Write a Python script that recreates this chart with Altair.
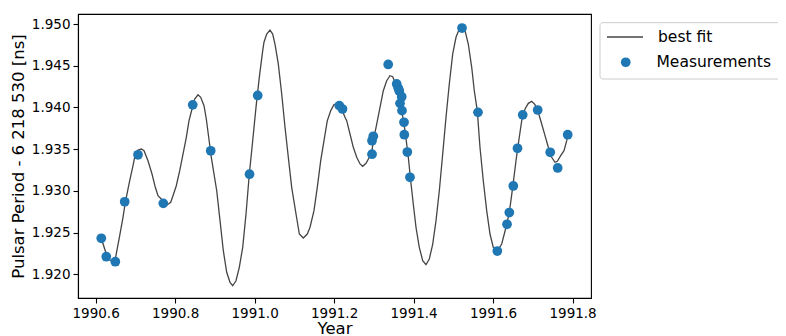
import altair as alt
import pandas as pd

# ---- best-fit curve ----
fit_year = [1990.6143, 1990.6229, 1990.6312, 1990.6480, 1990.6606, 1990.6689, 1990.6747, 1990.6858,
            1990.6941, 1990.6999, 1990.7067, 1990.7150, 1990.7218, 1990.7318, 1990.7419, 1990.7502,
            1990.7570, 1990.7696, 1990.7804, 1990.7889, 1990.7947, 1990.8030, 1990.8116, 1990.8199,
            1990.8282, 1990.8350, 1990.8425, 1990.8493, 1990.8576, 1990.8644, 1990.8727, 1990.8785,
            1990.8845, 1990.8911, 1990.9047, 1990.9130, 1990.9213, 1990.9298, 1990.9381, 1990.9449,
            1990.9532, 1990.9615, 1990.9701, 1990.9784, 1990.9867, 1990.9952, 1991.0035, 1991.0118,
            1991.0204, 1991.0236, 1991.0304, 1991.0387, 1991.0455, 1991.0513, 1991.0596, 1991.0682,
            1991.0765, 1991.0848, 1991.0933, 1991.1042, 1991.1125, 1991.1225, 1991.1326, 1991.1394,
            1991.1494, 1991.1577, 1991.1663, 1991.1746, 1991.1829, 1991.1914, 1991.1997, 1991.2081,
            1991.2191, 1991.2274, 1991.2317, 1991.2400, 1991.2483, 1991.2569, 1991.2652, 1991.2720,
            1991.2803, 1991.2886, 1991.2954, 1991.2986, 1991.3072, 1991.3155, 1991.3238, 1991.3323,
            1991.3406, 1991.3474, 1991.3532, 1991.3615, 1991.3701, 1991.3784, 1991.3867, 1991.3927,
            1991.3992, 1991.4060, 1991.4143, 1991.4229, 1991.4312, 1991.4395, 1991.4481, 1991.4564,
            1991.4647, 1991.4732, 1991.4815, 1991.4898, 1991.4984, 1991.5067, 1991.5150, 1991.5218,
            1991.5293, 1991.5376, 1991.5462, 1991.5527, 1991.5602, 1991.5670, 1991.5753, 1991.5839,
            1991.5922, 1991.6005, 1991.6106, 1991.6216, 1991.6325, 1991.6408, 1991.6493, 1991.6576,
            1991.6634, 1991.6720, 1991.6803, 1991.6886, 1991.6971, 1991.7054, 1991.7137, 1991.7223,
            1991.7306, 1991.7389, 1991.7474, 1991.7557, 1991.7615, 1991.7701, 1991.7784, 1991.7852,
            1991.7877]
fit_value = [1.92432, 1.92303, 1.92183, 1.92144, 1.92463, 1.92683, 1.92863, 1.93122,
             1.93302, 1.93442, 1.93490, 1.93502, 1.93482, 1.93362, 1.93203, 1.93043,
             1.92942, 1.92883, 1.92835, 1.92863, 1.92942, 1.93062, 1.93242, 1.93442,
             1.93643, 1.93842, 1.93982, 1.94102, 1.94153, 1.94122, 1.94022, 1.93862,
             1.93643, 1.93403, 1.93002, 1.92643, 1.92283, 1.92024, 1.91904, 1.91863,
             1.91923, 1.92084, 1.92324, 1.92723, 1.93203, 1.93602, 1.94002, 1.94362,
             1.94681, 1.94782, 1.94881, 1.94929, 1.94881, 1.94761, 1.94522, 1.94162,
             1.93763, 1.93403, 1.93043, 1.92723, 1.92483, 1.92435, 1.92483, 1.92564,
             1.92763, 1.93043, 1.93362, 1.93602, 1.93842, 1.93962, 1.94034, 1.94042,
             1.93982, 1.93882, 1.93842, 1.93682, 1.93523, 1.93403, 1.93323, 1.93295,
             1.93331, 1.93403, 1.93482, 1.93602, 1.93802, 1.94002, 1.94201, 1.94321,
             1.94381, 1.94369, 1.94302, 1.94162, 1.93962, 1.93722, 1.93403, 1.93122,
             1.92843, 1.92564, 1.92324, 1.92163, 1.92115, 1.92183, 1.92363, 1.92643,
             1.93002, 1.93442, 1.93882, 1.94282, 1.94642, 1.94842, 1.94941, 1.94962,
             1.94921, 1.94761, 1.94482, 1.94201, 1.93962, 1.93523, 1.93122, 1.92763,
             1.92483, 1.92324, 1.92279, 1.92363, 1.92564, 1.92743, 1.93043, 1.93362,
             1.93562, 1.93842, 1.93982, 1.94050, 1.94074, 1.94034, 1.93942, 1.93802,
             1.93662, 1.93523, 1.93403, 1.93343, 1.93355, 1.93422, 1.93482, 1.93602,
             1.93674]

# ---- measurements ----
meas_year = [1990.6143, 1990.6269, 1990.6496, 1990.6732, 1990.7067, 1990.7703, 1990.8443, 1990.8896,
             1990.9872, 1991.0078, 1991.2131, 1991.2211, 1991.2954, 1991.2954, 1991.2986, 1991.3361,
             1991.3575, 1991.3615, 1991.3640, 1991.3701, 1991.3658, 1991.3708, 1991.3759, 1991.3766,
             1991.3842, 1991.3909, 1991.5218, 1991.5620, 1991.6106, 1991.6350, 1991.6408, 1991.6508,
             1991.6614, 1991.6745, 1991.7122, 1991.7437, 1991.7625, 1991.7877]
meas_value = [1.92432, 1.92211, 1.92151, 1.92870, 1.93433, 1.92851, 1.94032, 1.93481,
              1.93200, 1.94144, 1.94022, 1.93982, 1.93440, 1.93602, 1.93655, 1.94516,
              1.94282, 1.94230, 1.94198, 1.94129, 1.94050, 1.93962, 1.93823, 1.93674,
              1.93466, 1.93163, 1.94953, 1.93942, 1.92279, 1.92600, 1.92741, 1.93059,
              1.93511, 1.93912, 1.93970, 1.93463, 1.93275, 1.93674]

x_ticks = [1990.6, 1990.8, 1991.0, 1991.2, 1991.4, 1991.6, 1991.8]
y_ticks = [1.920, 1.925, 1.930, 1.935, 1.940, 1.945, 1.950]
x_domain = [1990.5557, 1991.8463]
y_domain = [1.91716, 1.95121]

fit_df = pd.DataFrame({"year": fit_year, "value": fit_value, "series": "best fit"})
meas_df = pd.DataFrame({"year": meas_year, "value": meas_value, "series": "Measurements"})

FONT = "DejaVu Sans"

x_enc = alt.X("year:Q", scale=alt.Scale(domain=x_domain, nice=False, zero=False),
              axis=alt.Axis(title="Year", values=x_ticks, format=".1f", grid=False,
                            titleX=256.5, titleY=35, titleBaseline="alphabetic"))
y_enc = alt.Y("value:Q", scale=alt.Scale(domain=y_domain, nice=False, zero=False),
              axis=alt.Axis(title="Pulsar Period - 6 218 530 [ns]", values=y_ticks, format=".3f",
                            grid=False, titleX=-60, titleY=142, titleAngle=-90,
                            titleBaseline="middle", titleAlign="center"))

line = alt.Chart(fit_df).mark_line(strokeWidth=1.3, clip=True).encode(
    x=x_enc, y=y_enc,
    color=alt.Color("series:N",
                    scale=alt.Scale(domain=["best fit"], range=["#454545"]),
                    legend=alt.Legend(title=None, orient="none", legendX=528, legendY=4,
                                      symbolType="stroke", symbolSize=1296,
                                      symbolStrokeWidth=1.3, labelFontSize=15.5,
                                      labelFont=FONT, labelColor="black", labelOffset=14,
                                      padding=0)),
)

points = alt.Chart(meas_df).mark_circle(size=95, opacity=1).encode(
    x=x_enc, y=y_enc,
    fill=alt.Fill("series:N",
                  scale=alt.Scale(domain=["Measurements"], range=["#1f77b4"]),
                  legend=alt.Legend(title=None, orient="none", legendX=540, legendY=40.5,
                                    symbolType="circle", symbolSize=95, symbolOpacity=1,
                                    labelFontSize=15.5, labelFont=FONT, labelColor="black",
                                    labelOffset=23, padding=0)),
)

frame = alt.Chart(pd.DataFrame({"k": [0]})).mark_rect(
    fill="white", stroke="#cccccc", strokeWidth=1, cornerRadius=3
).encode(x=alt.value(522), x2=alt.value(740), y=alt.value(8.7), y2=alt.value(65))

chart = alt.layer(frame, line, points).resolve_scale(color="independent", fill="independent") \
    .resolve_legend(color="independent", fill="independent").properties(
    width=513, height=284,
    autosize=alt.AutoSizeParams(type="none"),
    padding={"left": 70, "top": 6, "right": 187, "bottom": 38},
).configure(font=FONT).configure_view(stroke="black", strokeWidth=1.1).configure_axis(
    domainColor="black", domainWidth=1.1, tickColor="black", tickWidth=1.1, tickSize=5,
    labelFont=FONT, labelFontSize=13.5, labelColor="black", labelPadding=3,
    titleFont=FONT, titleFontSize=16.5, titleColor="black", titleFontWeight="normal",
)

chart.save("out.html", embed_options={"renderer": "svg", "actions": False})
